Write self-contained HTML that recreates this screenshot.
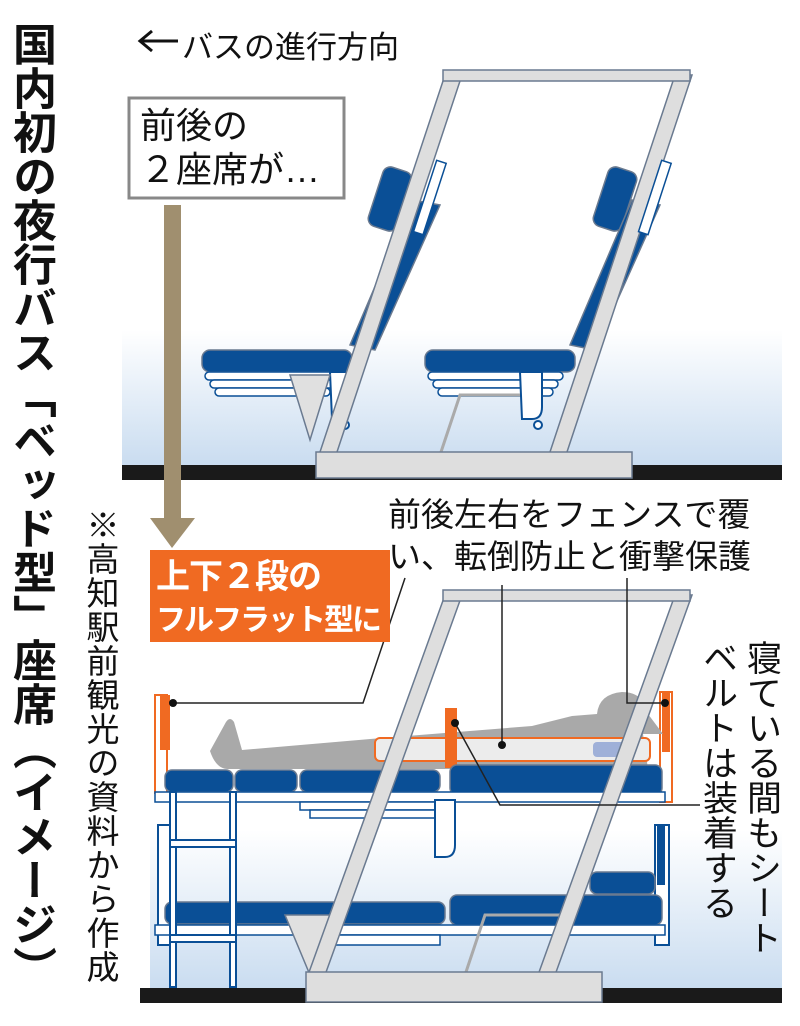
<!DOCTYPE html>
<html><head><meta charset="utf-8"><style>
html,body{margin:0;padding:0;background:#fff}
body{width:800px;height:1026px;position:relative;overflow:hidden;font-family:"Liberation Sans","Noto Sans CJK JP",sans-serif}
.v{position:absolute;writing-mode:vertical-rl;white-space:nowrap;line-height:1}
</style></head><body>
<svg width="800" height="1026" style="position:absolute;left:0;top:0">
<defs>
<linearGradient id="g" x1="0" y1="0" x2="0" y2="1"><stop offset="0" stop-color="#fff"/><stop offset="1" stop-color="#c9dcf0"/></linearGradient>
</defs>
<rect x="122" y="330" width="660" height="136" fill="url(#g)"/>
<rect x="122" y="465" width="660" height="15" fill="#1a1a1a"/>
<rect x="150" y="830" width="632" height="160" fill="url(#g)"/>
<rect x="140" y="988" width="642" height="15" fill="#1a1a1a"/>

<g stroke="#6a7a90" stroke-width="1.5">
<rect x="375" y="168" width="30" height="62" rx="8" fill="#0a4f96" transform="rotate(18 390 199)"/>
<rect x="600" y="168" width="30" height="62" rx="8" fill="#0a4f96" transform="rotate(18 615 199)"/>
<polygon points="412,200 440,205 375,350 350,345" fill="#0a4f96"/>
<polygon points="632,200 660,205 595,350 570,345" fill="#0a4f96"/>
<rect x="202" y="350" width="150" height="22" rx="8" fill="#0a4f96"/>
<rect x="425" y="350" width="150" height="22" rx="8" fill="#0a4f96"/>
<rect x="205" y="372" width="135" height="8" rx="4" fill="#fff" stroke="#0a4f96"/>
<rect x="210" y="380" width="125" height="8" rx="4" fill="#fff" stroke="#0a4f96"/>
<rect x="215" y="388" width="115" height="8" rx="4" fill="#fff" stroke="#0a4f96"/>
<rect x="428" y="372" width="135" height="8" rx="4" fill="#fff" stroke="#0a4f96"/>
<rect x="433" y="380" width="125" height="8" rx="4" fill="#fff" stroke="#0a4f96"/>
<rect x="438" y="388" width="115" height="8" rx="4" fill="#fff" stroke="#0a4f96"/>
<path d="M330 372 h20 v35 q0 12 -10 12 h-8 z" fill="#fff" stroke="#0a4f96" stroke-width="2"/>
<path d="M520 372 h22 v35 q0 12 -10 12 h-10 z" fill="#fff" stroke="#0a4f96" stroke-width="2"/>
<circle cx="345" cy="425" r="4" fill="#fff" stroke="#0a4f96" stroke-width="2"/>
<circle cx="538" cy="425" r="4" fill="#fff" stroke="#0a4f96" stroke-width="2"/>
<polygon points="290,375 330,375 310,440" fill="#e0e0e0"/>
<polyline points="440,455 460,395 520,395" fill="none" stroke="#aaa" stroke-width="3"/>
<polygon points="445,75 462,75 335,458 318,458" fill="#dedede"/>
<polygon points="675,75 692,75 565,458 548,458" fill="#dedede"/>
<rect x="443" y="70" width="247" height="11" fill="#dedede"/>
<rect x="316" y="452" width="316" height="26" fill="#dedede"/>
<rect x="425" y="160" width="10" height="75" fill="#fff" stroke="#0a4f96" transform="rotate(18 430 197)"/>
<rect x="650" y="160" width="10" height="75" fill="#fff" stroke="#0a4f96" transform="rotate(18 655 197)"/>

<rect x="155" y="695" width="12" height="98" fill="#fff" stroke="#f06a22" stroke-width="2"/>
<rect x="160" y="695" width="10" height="55" fill="#f06a22" stroke="none"/>
<rect x="660" y="692" width="12" height="110" fill="#fff" stroke="#f06a22" stroke-width="2"/>
<rect x="662" y="692" width="8" height="60" fill="#f06a22" stroke="none"/>
<path d="M226 722 q4 -6 8 0 l8 28 l140 -12 l150 -12 l40 -10 l25 -2 q2 -20 25 -22 q22 0 26 22 l15 20 h-20 l5 35 h-420 q-12 0 -18 -18 z" fill="#a9a9a9" stroke="none"/>
<rect x="375" y="738" width="275" height="23" rx="5" fill="#ececec" stroke="#f06a22" stroke-width="2"/>
<rect x="593" y="742" width="35" height="15" rx="4" fill="#9fb0d8" stroke="none"/>
<rect x="445" y="708" width="12" height="60" fill="#f06a22" stroke="none"/>
<rect x="165" y="770" width="68" height="22" rx="7" fill="#0a4f96"/>
<rect x="235" y="770" width="62" height="22" rx="7" fill="#0a4f96"/>
<rect x="300" y="770" width="140" height="22" rx="7" fill="#0a4f96"/>
<rect x="450" y="765" width="212" height="30" rx="7" fill="#0a4f96"/>
<rect x="155" y="792" width="510" height="10" fill="#fff" stroke="#0a4f96"/>
<rect x="300" y="802" width="140" height="8" fill="#fff" stroke="#0a4f96"/>
<rect x="310" y="810" width="130" height="8" fill="#fff" stroke="#0a4f96"/>
<path d="M435 800 h20 v45 q0 12 -10 12 h-10 z" fill="#fff" stroke="#0a4f96" stroke-width="2"/>
<rect x="158" y="825" width="14" height="120" fill="#fff" stroke="#0a4f96" stroke-width="2"/>
<rect x="655" y="825" width="14" height="120" fill="#fff" stroke="#0a4f96" stroke-width="2"/>
<rect x="657" y="825" width="8" height="60" fill="#0a4f96" stroke="none"/>
<rect x="165" y="902" width="280" height="22" rx="7" fill="#0a4f96"/>
<rect x="450" y="895" width="212" height="30" rx="7" fill="#0a4f96"/>
<rect x="590" y="872" width="65" height="22" rx="7" fill="#0a4f96"/>
<rect x="155" y="925" width="510" height="10" fill="#fff" stroke="#0a4f96"/>
<rect x="300" y="935" width="140" height="10" fill="#fff" stroke="#0a4f96"/>
<g fill="#fff" stroke="#0a4f96" stroke-width="2">
<rect x="170" y="792" width="6" height="195"/><rect x="230" y="792" width="6" height="195"/>
<rect x="170" y="840" width="66" height="7"/><rect x="170" y="935" width="66" height="7"/>
</g>
<polygon points="285,915 330,915 310,975" fill="#e0e0e0"/>
<polyline points="465,975 485,915 560,915" fill="none" stroke="#aaa" stroke-width="3"/>
<polygon points="445,595 462,595 325,975 308,975" fill="#dedede"/>
<polygon points="675,595 692,595 555,975 538,975" fill="#dedede"/>
<rect x="443" y="590" width="247" height="11" fill="#dedede"/>
<rect x="306" y="972" width="296" height="30" fill="#dedede"/>
</g>
<g stroke="#222" stroke-width="1.5" fill="none">
<polyline points="173,703 363,703 405,578"/>
<line x1="502" y1="745" x2="502" y2="585"/>
<polyline points="627,578 627,703 665,703"/>
<polyline points="455,723 500,805 700,805"/>
</g>
<g fill="#111"><circle cx="173" cy="703" r="4"/><circle cx="502" cy="745" r="4"/><circle cx="665" cy="703" r="4"/><circle cx="455" cy="723" r="4"/></g>
<rect x="164" y="205" width="17" height="315" fill="#a08f6f"/>
<polygon points="150,518 195,518 172,548" fill="#a08f6f"/>
<rect x="129" y="98" width="215" height="100" fill="#fff" stroke="#888" stroke-width="3"/>
<rect x="150" y="550" width="240" height="92" fill="#f06a22"/>
<!-- direction arrow -->
<line x1="142" y1="41" x2="178" y2="41" stroke="#111" stroke-width="3"/>
<polyline points="152,31 140,41 152,51" fill="none" stroke="#111" stroke-width="3"/>
</svg>
<div class="v" style="left:8px;top:22px;font-size:44px;font-weight:bold;color:#111">国内初の夜行バス「ベッド型」座席（イメージ）</div>
<div class="v" style="left:84px;top:508px;font-size:33px;letter-spacing:1px;color:#111">※高知駅前観光の資料から作成</div>
<div style="position:absolute;left:182px;top:22px;font-size:31px;color:#111;white-space:nowrap">バスの進行方向</div>
<div style="position:absolute;left:140px;top:104px;font-size:36px;line-height:44px;color:#111;white-space:nowrap">前後の<br>２座席が…</div>
<div style="position:absolute;left:156px;top:556px;font-size:34px;line-height:42px;color:#fff;font-weight:bold;white-space:nowrap;letter-spacing:-1px">上下２段の<br><span style="font-size:30px;letter-spacing:-2px">フルフラット型に</span></div>
<div style="position:absolute;left:388px;top:494px;font-size:33px;line-height:42px;color:#111;white-space:nowrap">前後左右をフェンスで覆<br>い、転倒防止と衝撃保護</div>
<div class="v" style="left:695px;top:640px;font-size:35px;line-height:44px;color:#111">寝ている間もシート<br>ベルトは装着する</div>
</body></html>
